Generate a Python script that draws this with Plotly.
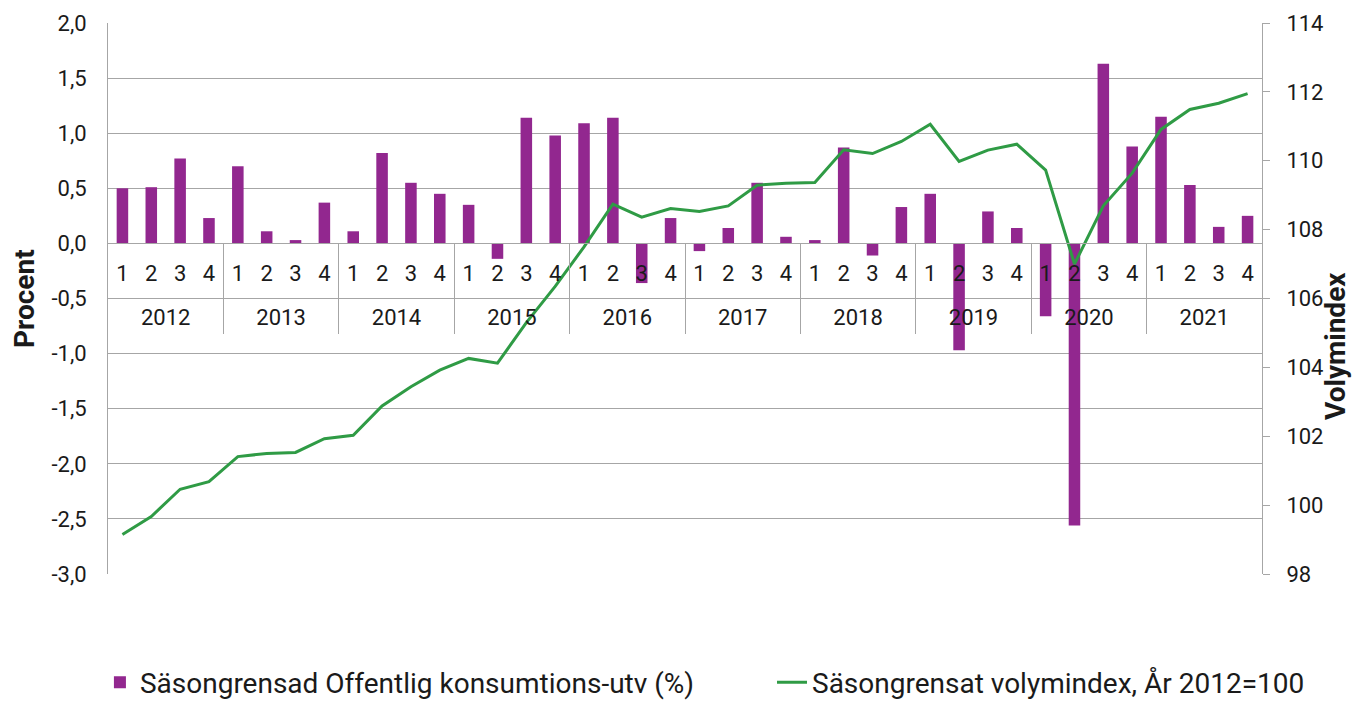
import plotly.graph_objects as go

years = ["2012", "2013", "2014", "2015", "2016", "2017", "2018", "2019", "2020", "2021"]
quarters = ["1", "2", "3", "4"]

growth = [0.50, 0.51, 0.77, 0.23,
          0.70, 0.11, 0.03, 0.37,
          0.11, 0.82, 0.55, 0.45,
          0.35, -0.14, 1.14, 0.98,
          1.09, 1.14, -0.36, 0.23,
          -0.07, 0.14, 0.55, 0.06,
          0.03, 0.87, -0.11, 0.33,
          0.45, -0.97, 0.29, 0.14,
          -0.66, -2.56, 1.63, 0.88,
          1.15, 0.53, 0.15, 0.25]

volume_index = [99.15, 99.67, 100.46, 100.68,
                101.41, 101.50, 101.53, 101.93,
                102.03, 102.88, 103.44, 103.92,
                104.26, 104.12, 105.30, 106.35,
                107.50, 108.74, 108.36, 108.61,
                108.53, 108.69, 109.29, 109.35,
                109.37, 110.32, 110.21, 110.56,
                111.06, 109.98, 110.31, 110.48,
                109.73, 107.00, 108.69, 109.64,
                110.91, 111.49, 111.67, 111.95]

left_ticks = [-3.0, -2.5, -2.0, -1.5, -1.0, -0.5, 0.0, 0.5, 1.0, 1.5, 2.0]
left_tick_labels = ["-3,0", "-2,5", "-2,0", "-1,5", "-1,0", "-0,5", "0,0", "0,5", "1,0", "1,5", "2,0"]

bar_name = "Säsongrensad Offentlig konsumtions-utv (%)"
line_name = "Säsongrensat volymindex, År 2012=100"
left_title = "Procent"
right_title = "Volymindex"

# category positions (one slot per quarter)
n = len(years) * len(quarters)
pos = list(range(n))
quarter_text = [q for _ in years for q in quarters]
year_pos = [i * len(quarters) + (len(quarters) - 1) / 2 for i in range(len(years))]
divider_pos = [i * len(quarters) - 0.5 for i in range(1, len(years))]

GRID = "#a6a6a6"
FONT = "Roboto"
TICK = 22
XR = [-0.5, n - 0.5]
ZERO_POS = (0 - left_ticks[0]) / (left_ticks[-1] - left_ticks[0])
YEAR_POS = (-0.5 - left_ticks[0]) / (left_ticks[-1] - left_ticks[0])

fig = go.Figure()
fig.add_trace(go.Bar(x=pos, y=growth, name=bar_name, marker_color="#92278f",
                     marker_line_width=0, xaxis="x", yaxis="y", legend="legend"))
fig.add_trace(go.Scatter(x=pos, y=volume_index, name=line_name, mode="lines",
                         line=dict(color="#2f9b45", width=3), xaxis="x", yaxis="y2",
                         legend="legend2"))
# helper (empty) traces so the label / divider axes get drawn
fig.add_trace(go.Scatter(x=[None], y=[None], xaxis="x2", yaxis="y", showlegend=False, hoverinfo="skip"))
fig.add_trace(go.Scatter(x=[None], y=[None], xaxis="x3", yaxis="y", showlegend=False, hoverinfo="skip"))

legend_style = dict(orientation="h", xanchor="left", y=-0.197, yanchor="middle",
                    font=dict(size=28, family=FONT), bgcolor="rgba(0,0,0,0)")

fig.update_layout(
    width=1353, height=701,
    margin=dict(l=108, r=91, t=23, b=127, autoexpand=False),
    paper_bgcolor="white", plot_bgcolor="white",
    font=dict(family=FONT, color="#1a1a1a", size=20),
    bargap=0.6,
    showlegend=True,
    legend=dict(x=-0.007, **legend_style),
    legend2=dict(x=0.5754, **legend_style),
    xaxis=dict(range=XR, anchor="free", position=ZERO_POS,
               tickmode="array", tickvals=pos, ticktext=quarter_text,
               showline=True, linecolor=GRID, linewidth=1, ticks="",
               showgrid=False, zeroline=False, ticklabelstandoff=10,
               tickfont=dict(size=TICK, family=FONT)),
    xaxis2=dict(range=XR, overlaying="x", anchor="free", position=YEAR_POS,
                tickmode="array", tickvals=year_pos, ticktext=years,
                showline=False, ticks="", showgrid=False, zeroline=False,
                ticklabelstandoff=3, tickfont=dict(size=TICK, family=FONT)),
    xaxis3=dict(range=XR, overlaying="x", anchor="free", position=ZERO_POS,
                tickmode="array", tickvals=divider_pos, showticklabels=False,
                ticks="outside", ticklen=90, tickwidth=1, tickcolor=GRID,
                showline=False, showgrid=False, zeroline=False),
    yaxis=dict(range=[left_ticks[0], left_ticks[-1]], tickmode="array",
               tickvals=left_ticks, ticktext=left_tick_labels,
               showgrid=True, gridcolor=GRID, gridwidth=1, zeroline=False,
               showline=True, linecolor=GRID, linewidth=1, ticklabelstandoff=16,
               tickfont=dict(size=TICK, family=FONT)),
    yaxis2=dict(range=[98, 114], dtick=2, tickformat="d", overlaying="y", side="right",
                showgrid=False, zeroline=False, showline=True, linecolor=GRID, linewidth=1,
                ticks="outside", ticklen=7, tickcolor=GRID, ticklabelstandoff=12,
                tickfont=dict(size=TICK, family=FONT)),
    annotations=[
        dict(text="<b>" + left_title + "</b>", xref="paper", yref="paper",
             x=-0.0724, y=0.5, xanchor="center", yanchor="middle", textangle=-90,
             showarrow=False, font=dict(size=28, family=FONT, color="#1a1a1a")),
        dict(text="<b>" + right_title + "</b>", xref="paper", yref="paper",
             x=1.0641, y=0.4138, xanchor="center", yanchor="middle", textangle=-90,
             showarrow=False, font=dict(size=28, family=FONT, color="#1a1a1a")),
    ],
)

fig.write_html("out.html", config={"displayModeBar": False},
               post_script="document.body.style.margin='0';")
